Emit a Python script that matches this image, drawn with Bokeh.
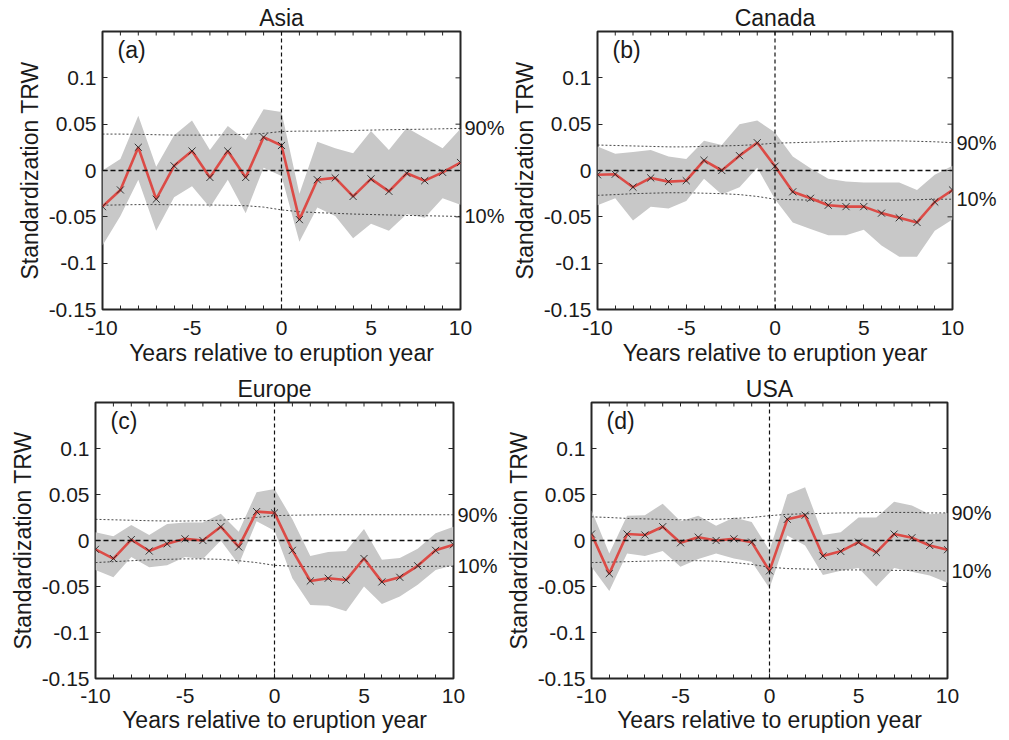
from math import pi
from bokeh.plotting import figure
from bokeh.layouts import column, row
from bokeh.models import (Range1d, FixedTicker, LinearAxis, Span, Label,
                          CustomJSTickFormatter)
from bokeh.embed import file_html
from bokeh.resources import INLINE

years = list(range(-10, 11))
x_major = [-10, -5, 0, 5, 10]
y_ticks = [-0.15, -0.1, -0.05, 0, 0.05, 0.1]
titles = ["Asia", "Canada", "Europe", "USA"]
letters = ["(a)", "(b)", "(c)", "(d)"]

asia_mean = [-0.039, -0.021, 0.025, -0.031, 0.005, 0.021, -0.0075, 0.021, -0.0075, 0.036, 0.027,
             -0.053, -0.010, -0.008, -0.028, -0.009, -0.0225, -0.003, -0.011, -0.002, 0.0086]
asia_upper = [0.000, 0.0125, 0.059, 0.004, 0.038, 0.054, 0.022, 0.048, 0.033, 0.066, 0.063,
              -0.025, 0.031, 0.024, 0.0186, 0.0425, 0.022, 0.046, 0.035, 0.024, 0.045]
asia_lower = [-0.081, -0.049, -0.010, -0.065, -0.029, -0.017, -0.040, -0.010, -0.046, 0.003, -0.006,
              -0.077, -0.040, -0.049, -0.073, -0.0575, -0.065, -0.047, -0.051, -0.030, -0.037]
asia_p90 = [0.0393, 0.0393, 0.039, 0.0386, 0.0382, 0.0382, 0.0382, 0.0386, 0.039, 0.040, 0.0421,
            0.0425, 0.0425, 0.0429, 0.0432, 0.0436, 0.044, 0.0443, 0.0446, 0.045, 0.0454]
asia_p10 = [-0.0375, -0.0371, -0.0368, -0.0368, -0.037, -0.0372, -0.0372, -0.0375, -0.038, -0.0395, -0.0425,
            -0.0445, -0.0455, -0.0462, -0.047, -0.0475, -0.048, -0.0485, -0.0488, -0.0492, -0.0496]

canada_mean = [-0.0046, -0.004, -0.018, -0.008, -0.012, -0.011, 0.011, 0.0, 0.016, 0.030, 0.0046,
               -0.023, -0.030, -0.0375, -0.039, -0.039, -0.046, -0.051, -0.056, -0.034, -0.021]
canada_upper = [0.026, 0.018, 0.020, 0.022, 0.015, 0.0125, 0.032, 0.0275, 0.050, 0.054, 0.041,
                0.015, 0.0025, -0.009, -0.012, -0.013, -0.013, -0.013, -0.021, -0.0046, 0.005]
canada_lower = [-0.0375, -0.030, -0.054, -0.039, -0.041, -0.033, -0.009, -0.026, -0.018, 0.003, -0.031,
                -0.056, -0.063, -0.070, -0.070, -0.064, -0.081, -0.093, -0.093, -0.065, -0.053]
canada_p90 = [0.0275, 0.027, 0.0265, 0.026, 0.0255, 0.0255, 0.026, 0.0265, 0.027, 0.028, 0.0295,
              0.030, 0.0305, 0.031, 0.0315, 0.032, 0.032, 0.032, 0.0315, 0.031, 0.030]
canada_p10 = [-0.0268, -0.026, -0.025, -0.0245, -0.024, -0.024, -0.0245, -0.025, -0.026, -0.028, -0.031,
              -0.0315, -0.032, -0.032, -0.032, -0.032, -0.032, -0.032, -0.0315, -0.031, -0.031]

europe_mean = [-0.0096, -0.0196, 0.001, -0.0114, -0.0036, 0.0018, 0.0, 0.015, -0.007, 0.0314, 0.030,
               -0.0107, -0.044, -0.041, -0.043, -0.0196, -0.045, -0.040, -0.0275, -0.0107, -0.0046]
europe_upper = [0.009, 0.0046, 0.0168, 0.006, 0.018, 0.0196, 0.0196, 0.029, 0.0096, 0.0525, 0.056,
                0.023, -0.0168, -0.0125, -0.0114, 0.0125, -0.021, -0.019, -0.009, 0.008, 0.015]
europe_lower = [-0.032, -0.040, -0.018, -0.029, -0.027, -0.018, -0.020, 0.0, -0.026, 0.021, 0.0107,
                -0.041, -0.070, -0.071, -0.077, -0.050, -0.069, -0.061, -0.048, -0.032, -0.027]
europe_p90 = [0.023, 0.0225, 0.022, 0.0215, 0.0212, 0.0212, 0.0215, 0.022, 0.0235, 0.025, 0.027,
              0.0275, 0.0278, 0.028, 0.028, 0.028, 0.028, 0.028, 0.028, 0.028, 0.028]
europe_p10 = [-0.024, -0.023, -0.022, -0.021, -0.0205, -0.020, -0.020, -0.0205, -0.022, -0.024, -0.027,
              -0.028, -0.0285, -0.0286, -0.0286, -0.0286, -0.0286, -0.0285, -0.0283, -0.028, -0.028]

usa_mean = [0.007, -0.036, 0.007, 0.006, 0.015, -0.0025, 0.0036, 0.0, 0.0018, -0.0018, -0.033,
            0.023, 0.0275, -0.0168, -0.0118, -0.0018, -0.013, 0.007, 0.003, -0.0054, -0.010]
usa_upper = [0.033, -0.014, 0.027, 0.0275, 0.040, 0.021, 0.027, 0.016, 0.025, 0.020, -0.011,
             0.050, 0.058, 0.006, 0.009, 0.025, 0.025, 0.042, 0.038, 0.0286, 0.030]
usa_lower = [-0.0286, -0.055, -0.014, -0.0168, -0.0114, -0.0286, -0.020, -0.014, -0.0196, -0.023, -0.052,
             0.0054, -0.0054, -0.0375, -0.033, -0.030, -0.050, -0.030, -0.034, -0.038, -0.046]
usa_p90 = [0.0257, 0.025, 0.024, 0.0235, 0.023, 0.0225, 0.0225, 0.023, 0.024, 0.025, 0.027,
           0.0285, 0.029, 0.0295, 0.030, 0.030, 0.0305, 0.0305, 0.0305, 0.030, 0.030]
usa_p10 = [-0.024, -0.0235, -0.023, -0.0225, -0.022, -0.022, -0.022, -0.0225, -0.024, -0.026, -0.029,
           -0.0305, -0.031, -0.0315, -0.032, -0.032, -0.032, -0.0325, -0.0325, -0.033, -0.033]

FONT = "Liberation Sans"
DARK = "#262626"
TXT = "#1a1a1a"


def make_panel(title, letter, mean, upper, lower, p90, p10,
               width, height, b_left, b_right, b_top, b_bottom, x_stand, xl_stand):
    p = figure(width=width, height=height, output_backend="svg", toolbar_location=None,
               x_range=Range1d(-10, 10), y_range=Range1d(-0.15, 0.15),
               min_border_left=b_left, min_border_right=b_right,
               min_border_top=b_top, min_border_bottom=b_bottom,
               title=title)
    p.title.align = "center"
    p.title.text_font = FONT
    p.title.text_font_size = "23px"
    p.title.text_font_style = "normal"
    p.title.text_color = TXT
    p.title.standoff = 1
    p.xgrid.visible = False
    p.ygrid.visible = False
    p.outline_line_color = DARK
    p.outline_line_width = 2
    p.outline_line_alpha = 1.0

    p.varea(x=years, y1=lower, y2=upper, fill_color="#c8c8c8")
    p.line(years, p90, line_color="#333333", line_width=0.9, line_dash="2 2")
    p.line(years, p10, line_color="#333333", line_width=0.9, line_dash="2 2")
    p.add_layout(Span(location=0, dimension="width", line_color="#111111",
                      line_width=1.5, line_dash="5 3"))
    p.add_layout(Span(location=0, dimension="height", line_color="#111111",
                      line_width=1.2, line_dash="4 3"))
    p.line(years, mean, line_color="#dc4b46", line_width=2.6)
    p.scatter(years, mean, marker="x", size=10, line_color="#222222", line_width=0.9)

    # inner ticks on the top and right edges of the box
    p.ray(x=[10] * len(y_ticks), y=y_ticks, length=5, length_units="screen",
          angle=pi, line_color=DARK, line_width=1)
    p.ray(x=years, y=[0.15] * len(years), length=4, length_units="screen",
          angle=-pi / 2, line_color=DARK, line_width=1)

    p.xaxis.ticker = FixedTicker(ticks=x_major, minor_ticks=years)
    p.xaxis.formatter = CustomJSTickFormatter(code="return String(tick);")
    p.yaxis.ticker = FixedTicker(ticks=y_ticks)
    p.yaxis.formatter = CustomJSTickFormatter(code="return String(Math.round(tick*100)/100);")
    for ax in list(p.xaxis) + list(p.yaxis):
        ax.axis_line_color = None
        ax.major_tick_in = 5
        ax.major_tick_out = 0
        ax.minor_tick_in = 4
        ax.minor_tick_out = 0
        ax.major_tick_line_color = DARK
        ax.minor_tick_line_color = DARK
        ax.major_label_text_font = FONT
        ax.major_label_text_font_size = "21px"
        ax.major_label_text_color = TXT
        ax.axis_label_text_font = FONT
        ax.axis_label_text_font_size = "23px"
        ax.axis_label_text_font_style = "normal"
        ax.axis_label_text_color = TXT
    p.xaxis.major_label_standoff = x_stand
    p.xaxis.axis_label = "Years relative to eruption year"
    p.xaxis.axis_label_standoff = xl_stand
    p.yaxis.major_label_standoff = 6
    p.yaxis.axis_label = "Standardization TRW"
    p.yaxis.axis_label_standoff = 3

    pct = LinearAxis(ticker=FixedTicker(ticks=[p10[-1], p90[-1]]),
                     formatter=CustomJSTickFormatter(code="return tick > 0 ? '90%' : '10%';"),
                     axis_line_color=None, major_tick_in=0, major_tick_out=0,
                     minor_tick_in=0, minor_tick_out=0, major_label_standoff=4,
                     major_label_text_font=FONT, major_label_text_font_size="20px",
                     major_label_text_color=TXT)
    p.add_layout(pct, "right")

    p.add_layout(Label(x=-10, y=0.15, text=letter, text_font=FONT, text_font_size="23px",
                       text_align="left", text_baseline="top", x_offset=15, y_offset=-5,
                       text_color=TXT))
    return p


pa = make_panel(titles[0], letters[0], asia_mean, asia_upper, asia_lower, asia_p90, asia_p10,
                508, 373, 102, 48, 31, 64, 11, 2)
pb = make_panel(titles[1], letters[1], canada_mean, canada_upper, canada_lower, canada_p90, canada_p10,
                500, 373, 87, 56, 31, 64, 11, 2)
pc = make_panel(titles[2], letters[2], europe_mean, europe_upper, europe_lower, europe_p90, europe_p10,
                502, 366, 95, 49, 28, 61, 10, 1)
pd = make_panel(titles[3], letters[3], usa_mean, usa_upper, usa_lower, usa_p90, usa_p10,
                506, 366, 86, 61, 28, 61, 10, 1)

layout = column(row(pa, pb), row(pc, pd))
open("out.html", "w").write(file_html(layout, INLINE))
